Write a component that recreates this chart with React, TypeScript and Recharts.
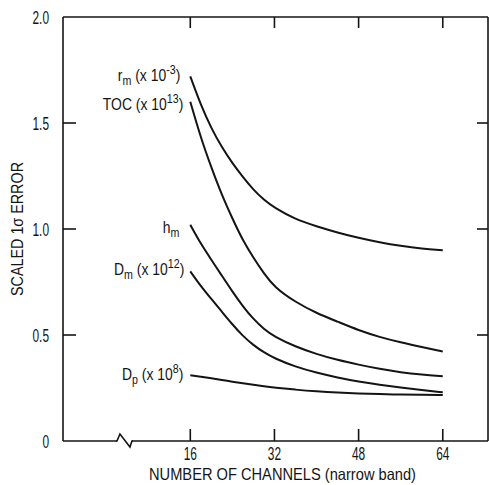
import React from 'react';
import { LineChart, Line, XAxis, YAxis, LabelList, ReferenceDot, Label } from 'recharts';

const channels = [16, 18, 20, 22, 24, 26, 28, 30, 32, 36, 40, 44, 48, 52, 56, 60, 64];
const rm = [1.72, 1.585, 1.475, 1.385, 1.31, 1.245, 1.185, 1.137, 1.1, 1.045, 1.013, 0.983, 0.958, 0.937, 0.92, 0.907, 0.9];
const toc = [1.6, 1.43, 1.29, 1.16, 1.05, 0.945, 0.865, 0.79, 0.725, 0.655, 0.603, 0.563, 0.522, 0.49, 0.465, 0.443, 0.422];
const hm = [1.02, 0.93, 0.855, 0.78, 0.705, 0.635, 0.575, 0.528, 0.492, 0.445, 0.41, 0.382, 0.36, 0.34, 0.324, 0.313, 0.305];
const dm = [0.8, 0.73, 0.67, 0.61, 0.55, 0.495, 0.452, 0.418, 0.39, 0.35, 0.322, 0.299, 0.28, 0.265, 0.252, 0.24, 0.23];
const dp = [0.31, 0.303, 0.296, 0.288, 0.28, 0.272, 0.265, 0.258, 0.252, 0.242, 0.234, 0.228, 0.224, 0.221, 0.219, 0.218, 0.217];

const xTicks = [16, 32, 48, 64];
const yTicks = [0, 0.5, 1, 1.5, 2];
const innerYTicks = [0.5, 1, 1.5];
const xDomain: [number, number] = [-8.2, 72.6];
const yDomain: [number, number] = [0, 2];
const xBreak = 3.2;

const data = channels.map((c, i) => ({ channels: c, rm: rm[i], toc: toc[i], hm: hm[i], dm: dm[i], dp: dp[i] }));

const FONT = "'Liberation Sans', Arial, sans-serif";
const INK = '#141414';

const SText = (p: {
  x: number;
  y: number;
  sx: number;
  anchor: 'start' | 'middle' | 'end';
  size: number;
  rotate?: number;
  children: React.ReactNode;
}) => (
  <g transform={`translate(${p.x},${p.y})${p.rotate ? ` rotate(${p.rotate})` : ''} scale(${p.sx},1)`}>
    <text x={0} y={0} textAnchor={p.anchor} fontFamily={FONT} fontSize={p.size} fill={INK}>
      {p.children}
    </text>
  </g>
);

type Part = { t: string; s?: 'sub' | 'sup' };

const LABEL_SIZE = 17;
const LABEL_SX = 0.82;

const makeLabel = (parts: Part[], dx: number, dy: number) => (props: any) => {
  if (props.index !== 0) return null;
  const x = Number(props.x);
  const y = Number(props.y);
  let shift = 0;
  const spans = parts.map((p, k) => {
    const target = p.s === 'sub' ? 4 : p.s === 'sup' ? -7 : 0;
    const d = target - shift;
    shift = target;
    return (
      <tspan key={k} dy={d} fontSize={p.s ? 13 : LABEL_SIZE}>
        {p.t}
      </tspan>
    );
  });
  return (
    <SText x={x - dx} y={y + dy} sx={LABEL_SX} anchor="end" size={LABEL_SIZE}>
      {spans}
    </SText>
  );
};

const rmLabel = makeLabel([{ t: 'r' }, { t: 'm', s: 'sub' }, { t: ' (x 10' }, { t: '-3', s: 'sup' }, { t: ')' }], 10, 5);
const tocLabel = makeLabel([{ t: 'TOC (x 10' }, { t: '13', s: 'sup' }, { t: ')' }], 7, 8);
const hmLabel = makeLabel([{ t: 'h' }, { t: 'm', s: 'sub' }], 11, 8);
const dmLabel = makeLabel([{ t: 'D' }, { t: 'm', s: 'sub' }, { t: ' (x 10' }, { t: '12', s: 'sup' }, { t: ')' }], 6, 4);
const dpLabel = makeLabel([{ t: 'D' }, { t: 'p', s: 'sub' }, { t: ' (x 10' }, { t: '8', s: 'sup' }, { t: ')' }], 7, 5);

const TICK_SIZE = 18;
const TICK_SX = 0.66;

const YTick = (props: any) => {
  const v = Number(props.payload?.value);
  const label = v === 0 ? '0' : v.toFixed(1);
  return (
    <SText x={Number(props.x)} y={Number(props.y) + 6.5} sx={TICK_SX} anchor="end" size={TICK_SIZE}>
      {label}
    </SText>
  );
};

const XTick = (props: any) => (
  <SText x={Number(props.x)} y={Number(props.y) + 13} sx={TICK_SX} anchor="middle" size={TICK_SIZE}>
    {String(props.payload?.value)}
  </SText>
);

const BreakMark = (props: any) => {
  const cx = Number(props.cx);
  const cy = Number(props.cy);
  return (
    <g>
      <rect x={cx - 6} y={cy - 2} width={15} height={4} fill="#fff" />
      <path
        d={`M${cx - 7},${cy} L${cx - 6},${cy} L${cx - 3},${cy - 7} L${cx + 7},${cy + 6} L${cx + 9},${cy} L${cx + 10},${cy}`}
        fill="none"
        stroke={INK}
        strokeWidth={1.6}
      />
    </g>
  );
};

const YTitle = (props: any) => {
  const vb = props.viewBox || {};
  const cy = Number(vb.y) + Number(vb.height) / 2;
  return (
    <text
      transform={`translate(23, ${cy}) rotate(-90)`}
      textAnchor="middle"
      fontFamily={FONT}
      fontSize={17}
      fill={INK}
      textLength={134}
      lengthAdjust="spacingAndGlyphs"
    >
      SCALED 1σ ERROR
    </text>
  );
};

const XTitle = (props: any) => {
  const vb = props.viewBox || {};
  const cx = Number(vb.x) + Number(vb.width) / 2 + 7;
  return (
    <text
      x={cx - 133.5}
      y={480}
      fontFamily={FONT}
      fontSize={16.5}
      fill={INK}
      textLength={267}
      lengthAdjust="spacingAndGlyphs"
    >
      NUMBER OF CHANNELS (narrow band)
    </text>
  );
};

const lineProps = {
  type: 'basis' as const,
  stroke: INK,
  strokeWidth: 2,
  dot: false,
  isAnimationActive: false,
  xAxisId: 'b',
  yAxisId: 'l',
};

export default function App() {
  return (
    <div style={{ position: 'absolute', left: 0, top: 0, background: '#fff' }}>
      <LineChart width={489} height={485} data={data} margin={{ top: 17, right: 1, bottom: 0, left: 23 }}>
        <XAxis
          xAxisId="b"
          dataKey="channels"
          type="number"
          domain={xDomain}
          ticks={xTicks}
          orientation="bottom"
          height={44}
          tickSize={0}
          tickMargin={6}
          tickLine={false}
          axisLine={{ stroke: INK, strokeWidth: 1.6 }}
          tick={XTick}
          allowDataOverflow
        >
          <Label content={XTitle} />
        </XAxis>
        <XAxis
          xAxisId="bm"
          dataKey="channels"
          type="number"
          domain={xDomain}
          ticks={xTicks}
          orientation="bottom"
          mirror
          tickSize={12}
          tickFormatter={() => ''}
          axisLine={false}
          tickLine={{ stroke: INK, strokeWidth: 1.6 }}
          allowDataOverflow
        />
        <XAxis
          xAxisId="t"
          dataKey="channels"
          type="number"
          domain={xDomain}
          ticks={xTicks}
          orientation="top"
          mirror
          tickSize={11}
          tickFormatter={() => ''}
          axisLine={{ stroke: INK, strokeWidth: 1.6 }}
          tickLine={{ stroke: INK, strokeWidth: 1.6 }}
          allowDataOverflow
        />
        <YAxis
          yAxisId="l"
          type="number"
          domain={yDomain}
          ticks={yTicks}
          width={40}
          tickSize={0}
          tickMargin={14}
          tickLine={false}
          axisLine={{ stroke: INK, strokeWidth: 1.6 }}
          tick={YTick}
          allowDataOverflow
        >
          <Label content={YTitle} />
        </YAxis>
        <YAxis
          yAxisId="lm"
          type="number"
          domain={yDomain}
          ticks={innerYTicks}
          orientation="left"
          mirror
          tickSize={13}
          tickFormatter={() => ''}
          axisLine={false}
          tickLine={{ stroke: INK, strokeWidth: 1.6 }}
          allowDataOverflow
        />
        <YAxis
          yAxisId="r"
          type="number"
          domain={yDomain}
          ticks={innerYTicks}
          orientation="right"
          mirror
          tickSize={11}
          tickFormatter={() => ''}
          axisLine={{ stroke: INK, strokeWidth: 1.6 }}
          tickLine={{ stroke: INK, strokeWidth: 1.6 }}
          allowDataOverflow
        />
        <Line dataKey="rm" {...lineProps}>
          <LabelList dataKey="rm" content={rmLabel} />
        </Line>
        <Line dataKey="toc" {...lineProps}>
          <LabelList dataKey="toc" content={tocLabel} />
        </Line>
        <Line dataKey="hm" {...lineProps}>
          <LabelList dataKey="hm" content={hmLabel} />
        </Line>
        <Line dataKey="dm" {...lineProps}>
          <LabelList dataKey="dm" content={dmLabel} />
        </Line>
        <Line dataKey="dp" {...lineProps}>
          <LabelList dataKey="dp" content={dpLabel} />
        </Line>
        <ReferenceDot
          x={xBreak}
          y={0}
          xAxisId="b"
          yAxisId="l"
          r={0}
          ifOverflow="visible"
          shape={BreakMark}
        />
      </LineChart>
    </div>
  );
}
